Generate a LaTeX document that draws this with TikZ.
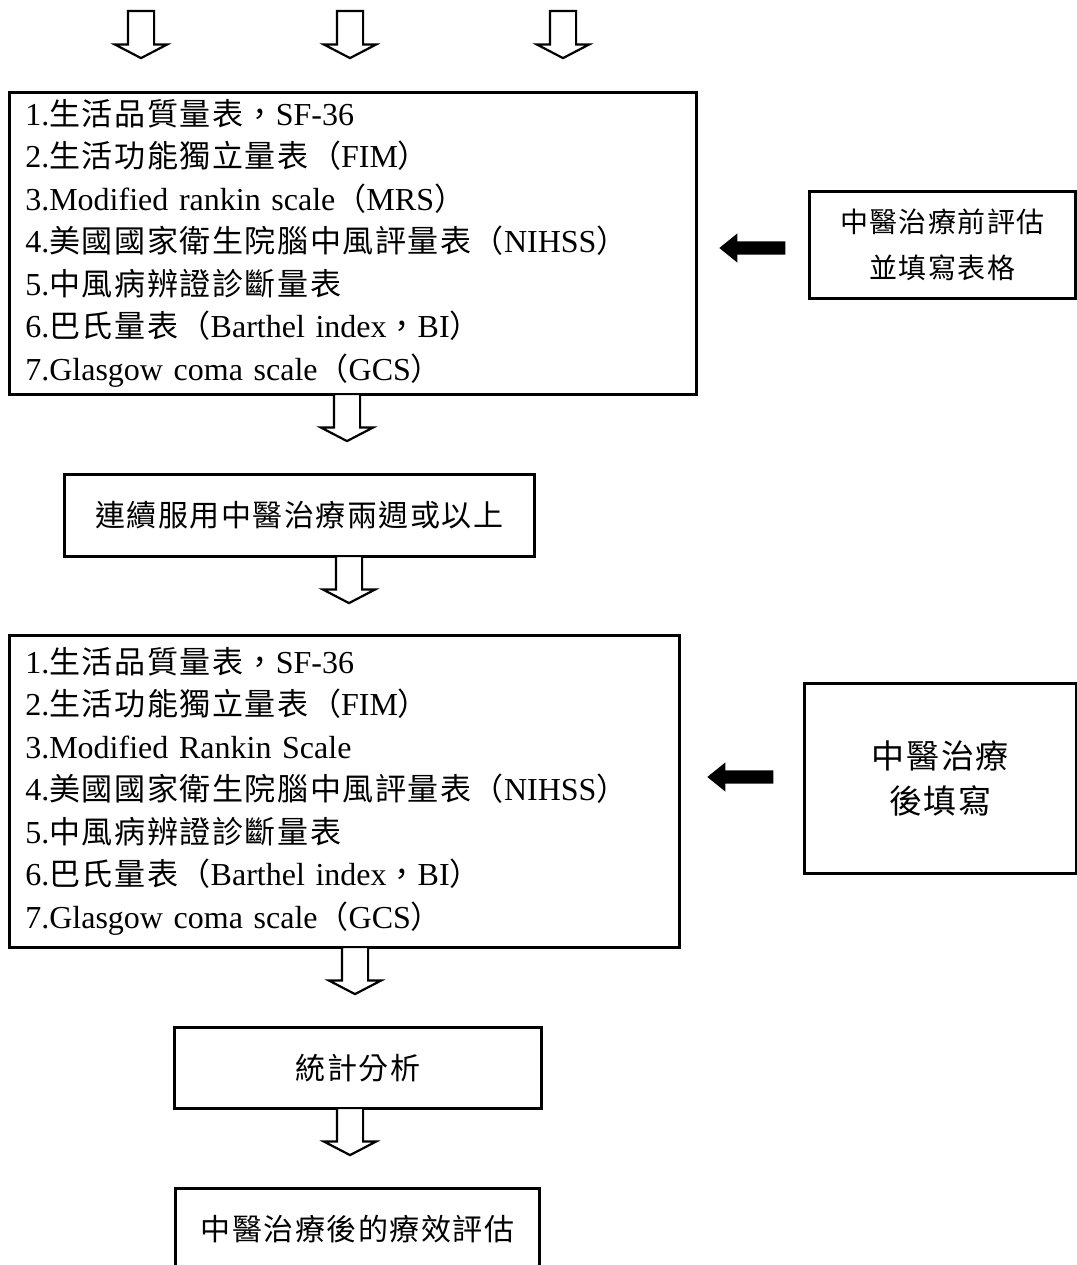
\documentclass[tikz,border=0pt]{standalone}
\usepackage{fontspec}
\setmainfont{Liberation Serif}
\newfontfamily\cjk[LetterSpace=5]{Noto Sans CJK TC}
\newfontfamily\cjkitem[Scale=0.97,LetterSpace=5]{Noto Sans CJK TC}
\usetikzlibrary{shapes.arrows}

\begin{document}
\begin{tikzpicture}[x=1pt,y=-1pt,
  box/.style={draw, line width=2.6pt, anchor=north west, align=center, inner sep=0pt, font=\fontsize{30}{46}\selectfont\cjk},
  listbox/.style={box, align=left, inner xsep=16pt, font=\fontsize{32}{42.5}\selectfont},
  hollow/.style={single arrow, draw, line width=2.2pt, fill=white, shape border rotate=270, inner sep=12pt, single arrow head extend=13pt, single arrow tip angle=125, minimum height=47pt, anchor=tail},
  solid/.style={single arrow, fill=black, shape border rotate=180, inner sep=6.5pt, single arrow head extend=8pt, single arrow tip angle=78, minimum height=66pt, anchor=tip}]
\useasboundingbox (0,0) rectangle (1076,1265);

% arrows from above
\node[hollow] (in1) at (141,10) {};
\node[hollow] (in2) at (350,10) {};
\node[hollow] (in3) at (563,10) {};

% before treatment
\node[listbox, text width=655pt, minimum height=302pt] (pre) at (8,91)
  {1.{\cjkitem 生活品質量表，}SF-36\\
   2.{\cjkitem 生活功能獨立量表（}FIM{\cjkitem ）}\\
   3.Modified rankin scale{\cjkitem （}MRS{\cjkitem ）}\\
   4.{\cjkitem 美國國家衛生院腦中風評量表（}NIHSS{\cjkitem ）}\\
   5.{\cjkitem 中風病辨證診斷量表}\\
   6.{\cjkitem 巴氏量表（}Barthel index{\cjkitem ，}BI{\cjkitem ）}\\
   7.Glasgow coma scale{\cjkitem （}GCS{\cjkitem ）}};
\node[box, minimum width=266pt, minimum height=107pt, font=\fontsize{28}{46}\selectfont\cjk] (prenote) at (808,190)
  {中醫治療前評估\\並填寫表格};
\node[solid] (l1) at (719,248) {};

\node[hollow] (d1) at (347,393) {};

% treatment
\node[box, minimum width=470pt, minimum height=82pt] (treat) at (63,473)
  {連續服用中醫治療兩週或以上};

\node[hollow] (d2) at (349,555) {};

% after treatment
\node[listbox, text width=638pt, minimum height=312pt] (post) at (8,634)
  {1.{\cjkitem 生活品質量表，}SF-36\\
   2.{\cjkitem 生活功能獨立量表（}FIM{\cjkitem ）}\\
   3.Modified Rankin Scale\\
   4.{\cjkitem 美國國家衛生院腦中風評量表（}NIHSS{\cjkitem ）}\\
   5.{\cjkitem 中風病辨證診斷量表}\\
   6.{\cjkitem 巴氏量表（}Barthel index{\cjkitem ，}BI{\cjkitem ）}\\
   7.Glasgow coma scale{\cjkitem （}GCS{\cjkitem ）}};
\node[box, minimum width=272pt, minimum height=190pt, font=\fontsize{33}{45}\selectfont\cjk] (postnote) at (803,682)
  {中醫治療\\後填寫};
\node[solid] (l2) at (707,777) {};

\node[hollow] (d3) at (355,946) {};

% analysis
\node[box, minimum width=367pt, minimum height=81pt] (stat) at (173,1026)
  {統計分析};

\node[hollow] (d4) at (350,1107) {};

\node[box, minimum width=364pt, minimum height=82pt] (result) at (174,1187)
  {中醫治療後的療效評估};
\end{tikzpicture}
\end{document}
